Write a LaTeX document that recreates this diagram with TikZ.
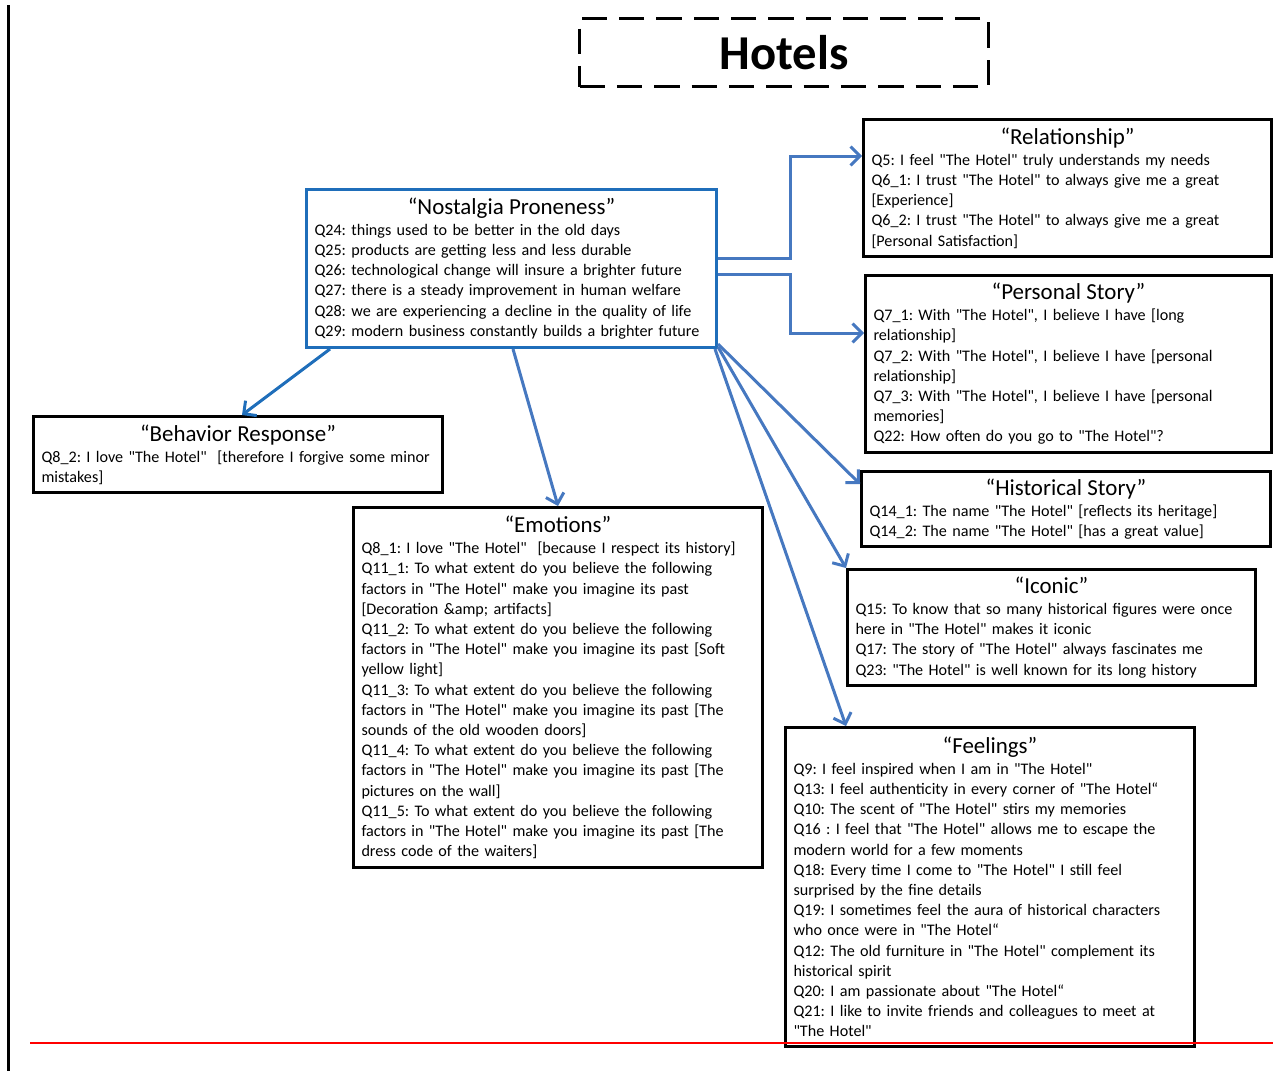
\documentclass[tikz,border=0pt]{standalone}
\usepackage{fontspec}
\setmainfont{Carlito}[Ligatures=TeXOff]
\usetikzlibrary{arrows.meta}

\definecolor{nostblue}{RGB}{31,110,186}
\definecolor{linkblue}{RGB}{70,120,192}
\newcommand{\cattitle}[1]{{\centering\fontsize{17.2}{18}\selectfont #1\par}\vspace{0.5pt}}
\frenchspacing

\begin{document}
\begin{tikzpicture}[x=0.75pt,y=0.75pt,yscale=-1,xscale=1,
	catbox/.style 2 args={draw, line width=2.25pt, anchor=north west, align=left, inner xsep=6pt, inner ysep=2pt, text width=#1, minimum height=#2, font=\fontsize{12.1}{15.15}\selectfont\frenchspacing},
	link/.style={draw=linkblue, line width=2.25pt, -{Straight Barb[length=7pt,width=14pt]}}]
	\useasboundingbox (0,0) rectangle (1273,1071);
	
	%Straight Lines: page margin
	\draw [line width=2.25pt] (8,5) -- (8,1071) ;
	
	%Shape: Rectangle (dashed title)
	\node [draw, line width=2.25pt, dash pattern=on 19pt off 9pt, anchor=north west, minimum width=306.75pt, minimum height=51pt, font=\bfseries\fontsize{36.5}{40}\selectfont] (hotels) at (578,17) {Hotels};
	
	% Text Node
	\node [catbox={295.5pt}{118.5pt}, draw=nostblue] (nost) at (305,188) {\cattitle{“Nostalgia Proneness”}Q24: things used to be better in the old days\\
		Q25: products are getting less and less durable\\
		Q26: technological change will insure a brighter future\\
		Q27: there is a steady improvement in human welfare\\
		Q28: we are experiencing a decline in the quality of life\\
		Q29: modern business constantly builds a brighter future};
	% Text Node
	\node [catbox={294pt}{102.75pt}] (relat) at (862,118) {\cattitle{“Relationship”}Q5: I feel "The Hotel" truly understands my needs\\
		Q6\_1: I trust "The Hotel" to always give me a great\\\relax
		[Experience]\\
		Q6\_2: I trust "The Hotel" to always give me a great\\\relax
		[Personal Satisfaction]};
	% Text Node
	\node [catbox={292.5pt}{132.75pt}] (pers) at (864,274) {\cattitle{“Personal Story”}Q7\_1: With "The Hotel", I believe I have [long\\
		relationship]\\
		Q7\_2: With "The Hotel", I believe I have [personal\\
		relationship]\\
		Q7\_3: With "The Hotel", I believe I have [personal\\
		memories]\\
		Q22: How often do you go to "The Hotel"?};
	% Text Node
	\node [catbox={294.75pt}{56.25pt}] (hist) at (860,470) {\cattitle{“Historical Story”}Q14\_1: The name "The Hotel" [reflects its heritage]\\
		Q14\_2: The name "The Hotel" [has a great value]};
	% Text Node
	\node [catbox={294pt}{87pt}] (icon) at (846,568) {\cattitle{“Iconic”}Q15: To know that so many historical figures were once\\
		here in "The Hotel" makes it iconic\\
		Q17: The story of "The Hotel" always fascinates me\\
		Q23: "The Hotel" is well known for its long history};
	% Text Node
	\node [catbox={294.75pt}{239.25pt}] (feel) at (784,726) {\cattitle{“Feelings”}Q9: I feel inspired when I am in "The Hotel"\\
		Q13: I feel authenticity in every corner of "The Hotel“\\
		Q10: The scent of "The Hotel" stirs my memories\\
		Q16 : I feel that "The Hotel" allows me to escape the\\
		modern world for a few moments\\
		Q18: Every time I come to "The Hotel" I still feel\\
		surprised by the fine details\\
		Q19: I sometimes feel the aura of historical characters\\
		who once were in "The Hotel“\\
		Q12: The old furniture in "The Hotel" complement its\\
		historical spirit\\
		Q20: I am passionate about "The Hotel“\\
		Q21: I like to invite friends and colleagues to meet at\\
		"The Hotel"};
	% Text Node
	\node [catbox={294.75pt}{57pt}] (behav) at (32,415) {\cattitle{“Behavior Response”}Q8\_2: I love "The Hotel"~ [therefore I forgive some minor\\
		mistakes]};
	% Text Node
	\node [catbox={294.75pt}{270pt}] (emo) at (352,506) {\cattitle{“Emotions”}Q8\_1: I love "The Hotel"~ [because I respect its history]\\
		Q11\_1: To what extent do you believe the following\\
		factors in "The Hotel" make you imagine its past\\\relax
		[Decoration \&amp; artifacts]\\
		Q11\_2: To what extent do you believe the following\\
		factors in "The Hotel" make you imagine its past [Soft\\
		yellow light]\\
		Q11\_3: To what extent do you believe the following\\
		factors in "The Hotel" make you imagine its past [The\\
		sounds of the old wooden doors]\\
		Q11\_4: To what extent do you believe the following\\
		factors in "The Hotel" make you imagine its past [The\\
		pictures on the wall]\\
		Q11\_5: To what extent do you believe the following\\
		factors in "The Hotel" make you imagine its past [The\\
		dress code of the waiters]};
	
	%Connectors
	\draw [link] ([shift={(0,-10)}]nost.east) -- ++(72,0) |- ([shift={(0,-32)}]relat.west) ;
	\draw [link] ([shift={(0,6)}]nost.east) -- ++(72,0) |- ([shift={(0,-31)}]pers.west) ;
	\draw [link] ([shift={(0,-5)}]nost.south east) -- ([shift={(0,14)}]hist.north west) ;
	\draw [link] ([shift={(0,-2)}]nost.south east) -- (icon.north west) ;
	\draw [link] ([shift={(-3,0)}]nost.south east) -- ([shift={(62,0)}]feel.north west) ;
	\draw [link, draw=nostblue] ([shift={(25,0)}]nost.south west) -- ([shift={(4,0)}]behav.north) ;
	\draw [link] ([shift={(208,0)}]nost.south west) -- (emo.north) ;
	
	%Straight Lines: red rule
	\draw [color=red, line width=1.5pt] (30,1043) -- (1273,1043) ;
\end{tikzpicture}
\end{document}
